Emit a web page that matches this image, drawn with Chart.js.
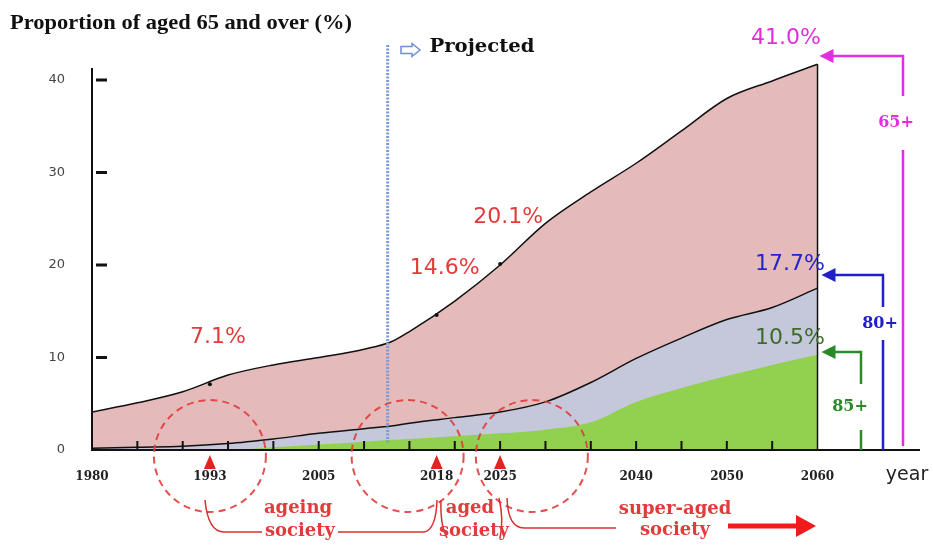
<!DOCTYPE html>
<html>
<head>
<meta charset="utf-8">
<script src="https://cdn.jsdelivr.net/npm/chart.js@4.4.1/dist/chart.umd.min.js"></script>
<style>
    html, body { margin: 0; padding: 0; background: #fff; }
</style>
</head>
<body>
<canvas id="grafica" width="933" height="545"></canvas>
<script>
var years  = [1980, 1985, 1990, 1995, 2000, 2005, 2010, 2013, 2015, 2020, 2025, 2030, 2035, 2040, 2045, 2050, 2055, 2060];
var aged65 = [4.1, 5.1, 6.3, 8.1, 9.2, 10.0, 10.9, 11.7, 12.8, 16.1, 20.0, 24.5, 27.9, 31.0, 34.5, 38.0, 39.9, 41.7];
var aged80 = [0.2, 0.3, 0.4, 0.7, 1.2, 1.8, 2.3, 2.6, 2.9, 3.5, 4.1, 5.2, 7.3, 9.9, 12.1, 14.1, 15.4, 17.5];
var aged85 = [0, 0, 0, 0, 0.3, 0.6, 0.9, 1.1, 1.2, 1.5, 1.8, 2.2, 3.0, 5.2, 6.7, 8.0, 9.2, 10.3];

var markYears  = [1993, 2018, 2025];
var markValues = [7.1, 14.6, 20.1];
var markLabels = ['7.1%', '14.6%', '20.1%'];

var yearLabels = [1980, 1993, 2005, 2018, 2025, 2040, 2050, 2060];
var yTicks     = [0, 10, 20, 30, 40];
var endLabels  = ['41.0%', '17.7%', '10.5%'];
var groupNames = ['65+', '80+', '85+'];
var projectedFrom = 2012.6;
var circleYears = [1993, 2014.8, 2028.5];

function toPoints(vals) {
    return years.map(function (y, i) { return { x: y, y: vals[i] }; });
}

function line(ctx, x1, y1, x2, y2) {
    ctx.beginPath();
    ctx.moveTo(x1, y1);
    ctx.lineTo(x2, y2);
    ctx.stroke();
}

function text(ctx, t, x, y, font, color, fitW) {
    ctx.save();
    ctx.font = font;
    ctx.fillStyle = color;
    ctx.textAlign = 'center';
    ctx.textBaseline = 'middle';
    ctx.translate(x, y);
    if (fitW) {
        ctx.scale(fitW / ctx.measureText(t).width, 1);
    }
    ctx.fillText(t, 0, 0);
    ctx.restore();
}

// arrow pointing left, with tail going down (65+/80+/85+ brackets)
function bracketArrow(ctx, color, tipX, y, tailX, gapTop, gapBot, bottom, label, labelX) {
    ctx.save();
    ctx.strokeStyle = color;
    ctx.fillStyle = color;
    ctx.lineWidth = 2.5;
    line(ctx, tipX + 10, y, tailX, y);
    line(ctx, tailX, y - 1.2, tailX, gapTop);
    line(ctx, tailX, gapBot, tailX, bottom);
    ctx.beginPath();
    ctx.moveTo(tipX, y);
    ctx.lineTo(tipX + 14, y - 7);
    ctx.lineTo(tipX + 14, y + 7);
    ctx.closePath();
    ctx.fill();
    ctx.restore();
    text(ctx, label, labelX, (gapTop + gapBot) / 2, 'bold 16px "DejaVu Serif"', color);
}

var decor = {
    id: 'decor',
    afterDraw: function (chart) {
        var ctx = chart.ctx, xs = chart.scales.x, ys = chart.scales.y, a = chart.chartArea;
        var yb = ys.getPixelForValue(0);
        var x60 = xs.getPixelForValue(2060);
        ctx.save();

        // axes
        ctx.strokeStyle = '#111';
        ctx.lineWidth = 2;
        line(ctx, a.left, 68, a.left, yb + 1);
        line(ctx, a.left, yb, a.right, yb);
        ctx.lineWidth = 1.5;
        line(ctx, x60, ys.getPixelForValue(aged65[aged65.length - 1]), x60, yb);

        // tick marks
        ctx.fillStyle = '#111';
        yTicks.slice(1).forEach(function (v) {
            ctx.fillRect(a.left + 4, ys.getPixelForValue(v) - 1.5, 11, 3);
        });
        ctx.lineWidth = 2;
        for (var yr = 1985; yr <= 2055; yr += 5) {
            var px = xs.getPixelForValue(yr);
            line(ctx, px, yb - 9, px, yb);
        }

        // projected line
        var xp = xs.getPixelForValue(projectedFrom);
        ctx.save();
        ctx.strokeStyle = '#7b9cd8';
        ctx.lineWidth = 3;
        ctx.setLineDash([2, 1.5]);
        line(ctx, xp, 45, xp, yb - 7);
        ctx.restore();
        ctx.save();
        ctx.strokeStyle = '#6f8fcf';
        ctx.fillStyle = '#fff';
        ctx.lineWidth = 1.5;
        ctx.beginPath();
        ctx.moveTo(401, 46.5); ctx.lineTo(412, 46.5); ctx.lineTo(412, 43.5);
        ctx.lineTo(420, 50); ctx.lineTo(412, 56.5); ctx.lineTo(412, 53.5);
        ctx.lineTo(401, 53.5); ctx.closePath();
        ctx.fill(); ctx.stroke();
        ctx.restore();
        text(ctx, 'Projected', 482, 47, 'bold 19px "DejaVu Serif"', '#111', 105);

        // title
        ctx.save();
        ctx.font = 'bold 22px "Liberation Serif"';
        ctx.fillStyle = '#111';
        ctx.textBaseline = 'alphabetic';
        ctx.translate(10, 29);
        ctx.scale(342 / ctx.measureText('Proportion of aged 65 and over (%)').width, 1);
        ctx.fillText('Proportion of aged 65 and over (%)', 0, 0);
        ctx.restore();

        // labels at marked years
        markYears.forEach(function (yr, i) {
            text(ctx, markLabels[i], xs.getPixelForValue(yr) + 8, ys.getPixelForValue(markValues[i]) - 47,
                '22px "DejaVu Sans"', '#e33b3b');
        });

        // end values
        text(ctx, endLabels[0], 786, 38, '22px "DejaVu Sans"', '#e02ee0');
        text(ctx, endLabels[1], 790, 264, '22px "DejaVu Sans"', '#2424cc');
        text(ctx, endLabels[2], 790, 338, '22px "DejaVu Sans"', '#3d6b2d');

        bracketArrow(ctx, '#e02ee0', x60 + 2, 56, 903, 96, 150, 446, groupNames[0], 896);
        bracketArrow(ctx, '#2020c8', x60 + 4, 275, 883, 307, 340, yb, groupNames[1], 880);
        bracketArrow(ctx, '#2a8a2a', x60 + 4, 352, 861, 384, 430, yb, groupNames[2], 850);

        text(ctx, 'year', 907, 475, '19px "DejaVu Sans"', '#222');

        // dashed circles
        ctx.save();
        ctx.strokeStyle = 'rgba(226, 60, 60, 0.9)';
        ctx.lineWidth = 2;
        ctx.setLineDash([7, 5]);
        circleYears.forEach(function (yr) {
            ctx.beginPath();
            ctx.arc(xs.getPixelForValue(yr), yb + 6, 56, 0, Math.PI * 2);
            ctx.stroke();
        });
        ctx.restore();

        // triangles
        ctx.fillStyle = '#e52222';
        markYears.forEach(function (yr) {
            var px = xs.getPixelForValue(yr);
            ctx.beginPath();
            ctx.moveTo(px, yb + 5);
            ctx.lineTo(px + 6, yb + 19);
            ctx.lineTo(px - 6, yb + 19);
            ctx.closePath();
            ctx.fill();
        });

        // society brackets
        ctx.strokeStyle = '#d83030';
        ctx.lineWidth = 1.5;
        ctx.beginPath();
        ctx.moveTo(205, 500); ctx.quadraticCurveTo(208, 532, 224, 532); ctx.lineTo(262, 532);
        ctx.moveTo(338, 532); ctx.lineTo(424, 532); ctx.quadraticCurveTo(436, 530, 437, 500);
        ctx.moveTo(441, 500); ctx.quadraticCurveTo(440, 525, 447, 538);
        ctx.moveTo(499, 498); ctx.quadraticCurveTo(504, 520, 500, 538);
        ctx.moveTo(507, 498); ctx.quadraticCurveTo(508, 528, 524, 528); ctx.lineTo(616, 528);
        ctx.stroke();

        var sf = 'bold 18px "DejaVu Serif"', sc = '#e23b3b';
        text(ctx, 'ageing', 298, 508, sf, sc);
        text(ctx, 'society', 300, 531, sf, sc);
        text(ctx, 'aged', 470, 508, sf, sc);
        text(ctx, 'society', 474, 531, sf, sc);
        text(ctx, 'super-aged', 675, 509, sf, sc);
        text(ctx, 'society', 675, 530, sf, sc);

        ctx.strokeStyle = '#f01c1c';
        ctx.fillStyle = '#f01c1c';
        ctx.lineWidth = 5;
        line(ctx, 728, 526, 800, 526);
        ctx.beginPath();
        ctx.moveTo(816, 526); ctx.lineTo(796, 515); ctx.lineTo(796, 537); ctx.closePath();
        ctx.fill();

        ctx.restore();
    }
};

var lineBase = { fill: 'origin', pointRadius: 0, cubicInterpolationMode: 'monotone', borderColor: '#111', borderWidth: 1.5 };

var grafica = new Chart(document.getElementById('grafica').getContext('2d'), {
    type: 'line',
    data: {
        datasets: [
            Object.assign({ label: groupNames[0], data: toPoints(aged65), backgroundColor: '#e5baba', order: 3 }, lineBase),
            Object.assign({ label: groupNames[1], data: toPoints(aged80), backgroundColor: '#c5c7da', order: 2 }, lineBase),
            Object.assign({}, lineBase, { label: groupNames[2], data: toPoints(aged85), backgroundColor: '#92d050', borderWidth: 0, order: 1 }),
            {
                label: 'marks',
                data: markYears.map(function (y, i) { return { x: y, y: markValues[i] }; }),
                showLine: false, pointRadius: 2, pointBackgroundColor: '#111', pointBorderWidth: 0, order: 0
            }
        ]
    },
    options: {
        responsive: false,
        animation: false,
        devicePixelRatio: 1,
        layout: { padding: { top: 61.5, right: 13, left: 0, bottom: 0 } },
        plugins: { legend: { display: false }, tooltip: { enabled: false } },
        scales: {
            x: {
                type: 'linear', min: 1980, max: 2071.3,
                afterBuildTicks: function (s) { s.ticks = yearLabels.map(function (v) { return { value: v }; }); },
                afterFit: function (s) { s.height = 95; },
                grid: { display: false, drawTicks: false },
                border: { display: false },
                ticks: {
                    font: { family: 'DejaVu Serif', weight: 'bold', size: 12 },
                    color: '#222', padding: 20, maxRotation: 0, autoSkip: false,
                    callback: function (v) { return String(v); }
                }
            },
            y: {
                min: 0, max: 42,
                afterBuildTicks: function (s) { s.ticks = yTicks.map(function (v) { return { value: v }; }); },
                afterFit: function (s) { s.width = 92; },
                grid: { display: false, drawTicks: false },
                border: { display: false },
                ticks: { font: { family: 'DejaVu Sans', size: 13 }, color: '#444', padding: 27 }
            }
        }
    },
    plugins: [decor]
});
</script>
</body>
</html>
